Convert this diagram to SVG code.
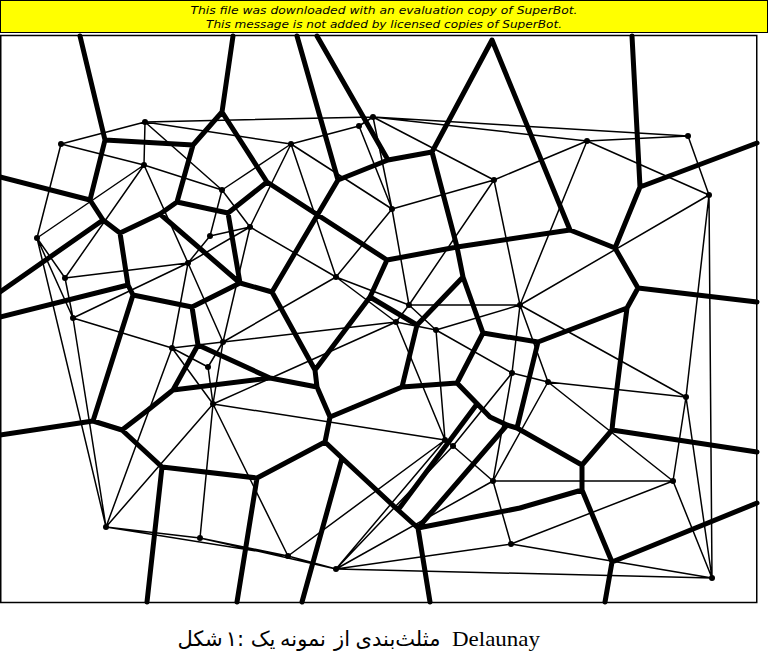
<svg xmlns="http://www.w3.org/2000/svg" width="768" height="655" viewBox="0 0 768 655">
<style>
.thick{fill:none;stroke:#000;stroke-width:5;stroke-linejoin:round;stroke-linecap:round}
.thin{fill:none;stroke:#000;stroke-width:1.5;stroke-linecap:round}
.site{fill:#000}
.banner{font-family:"DejaVu Sans",sans-serif;font-style:italic;font-size:11px;fill:#000}
.ar{font-family:"DejaVu Sans","Noto Sans",sans-serif;font-size:21px;fill:#000;text-anchor:middle}
.lat{font-family:"Liberation Serif",serif;font-size:22px;fill:#000}
</style>
<rect width="768" height="655" fill="#fff"/>
<g id="banner">
<rect x="0.5" y="0.5" width="767" height="32" fill="#ffff00" stroke="#000" stroke-width="1"/>
<text class="banner" x="384" y="14" text-anchor="middle" textLength="387" lengthAdjust="spacingAndGlyphs">This file was downloaded with an evaluation copy of SuperBot.</text>
<text class="banner" x="384" y="28" text-anchor="middle" textLength="356" lengthAdjust="spacingAndGlyphs">This message is not added by licensed copies of SuperBot.</text>
</g>
<rect id="frame" x="0.75" y="35.5" width="756" height="567" fill="none" stroke="#000" stroke-width="1.5"/>
<g id="connectors">
<path class="thin" d="M61 144L145 122M61 144L144 165M61 144L37 238M145 122L144 165M145 122L222 190M145 122L291 144M145 122L373 117M144 165L222 190M144 165L37 238M144 165L65 278M144 165L188 263M222 190L291 144M222 190L210 236M222 190L250 227M250 227L210 236M250 227L188 263M250 227L291 144M250 227L336 277M250 227L223 342M210 236L188 263M37 238L65 278M37 238L73 318M37 238L106 527M65 278L188 263M65 278L73 318M188 263L73 318M188 263L172 348M188 263L223 342M73 318L172 348M73 318L106 527M172 348L223 342M172 348L208 367M172 348L213 404M172 348L106 527M223 342L208 367M223 342L213 404M223 342L336 277M223 342L396 322M208 367L213 404M213 404L106 527M213 404L200 538M213 404L288 556M213 404L396 322M213 404L445 440M106 527L200 538M106 527L288 556M200 538L288 556M200 538L336 569M288 556L336 569M288 556L445 440M336 569L445 440M336 569L453 446M336 569L493 481M336 569L511 544M336 569L712 578M291 144L359 126M291 144L392 209M291 144L336 277M359 126L373 117M359 126L392 209M373 117L392 209M373 117L494 180M373 117L587 141M373 117L688 136M392 209L494 180M392 209L336 277M392 209L409 305M494 180L587 141M494 180L409 305M494 180L520 305M587 141L688 136M587 141L709 195M587 141L520 305M688 136L709 195M709 195L520 305M709 195L686 397M709 195L712 578M336 277L409 305M336 277L396 322M409 305L396 322M409 305L436 330M409 305L520 305M396 322L436 330M396 322L445 440M436 330L520 305M436 330L512 373M436 330L445 440M520 305L512 373M520 305L548 382M520 305L686 397M512 373L548 382M512 373L453 446M512 373L493 481M548 382L686 397M548 382L493 481M548 382L673 481M686 397L673 481M686 397L712 578M445 440L453 446M453 446L493 481M493 481L511 544M493 481L673 481M511 544L673 481M511 544L712 578M673 481L712 578"/>
<path class="thick" d="M80 36L105 140L193 145L222 112L233 36M105 140L90 200L0 177M90 200L103 220L0 292M103 220L120 233L160 214L177 202L193 145M222 112L267 182L228 213L177 202M228 213L240 283L160 214M120 233L128 285L0 317M128 285L133 295L192 307L240 283M133 295L93 421L0 435M93 421L122 430L148 410L173 390M122 430L162 467L147 602M162 467L257 478L237 602M257 478L325 442M192 307L198 345L173 390L270 378L198 345M270 378L317 387M240 283L272 292L338 180M272 292L315 370L317 387L330 417L402 387M330 417L325 442L342 458L302 602M342 458L398 510L477 404M398 510L418 528L430 602M418 528L520 508M418 528L507 425M297 36L338 180L388 160L317 36M388 160L432 152L492 40L570 230M432 152L457 247M267 182L387 260L457 247M387 260L370 297L315 370M370 297L417 325L402 387M417 325L463 277L457 247M463 277L483 333L538 342M483 333L457 383L402 387M457 383L490 417L507 425L517 428L538 342M517 428L582 465M538 342L627 308L638 288M627 308L613 420L612 430L757 452M612 430L582 465L582 490L520 508M582 490L612 562L757 503M612 562L605 602M457 247L570 230L615 248L640 187L632 36M640 187L757 143M615 248L638 288L757 302"/>
</g>
<g id="sites" class="site">
<g id="pA"><circle cx="61" cy="144" r="3"/></g>
<g id="pB"><circle cx="145" cy="122" r="3"/></g>
<g id="pC"><circle cx="144" cy="165" r="3"/></g>
<g id="pD"><circle cx="222" cy="190" r="3"/></g>
<g id="pE"><circle cx="250" cy="227" r="3"/></g>
<g id="pF"><circle cx="210" cy="236" r="3"/></g>
<g id="pG"><circle cx="37" cy="238" r="3"/></g>
<g id="pH"><circle cx="65" cy="278" r="3"/></g>
<g id="pI"><circle cx="188" cy="263" r="3"/></g>
<g id="pJ"><circle cx="73" cy="318" r="3"/></g>
<g id="pK"><circle cx="172" cy="348" r="3"/></g>
<g id="pL"><circle cx="223" cy="342" r="3"/></g>
<g id="pM"><circle cx="208" cy="367" r="3"/></g>
<g id="pN"><circle cx="213" cy="404" r="3"/></g>
<g id="pO"><circle cx="106" cy="527" r="3"/></g>
<g id="pQ"><circle cx="200" cy="538" r="3"/></g>
<g id="pR"><circle cx="288" cy="556" r="3"/></g>
<g id="pS"><circle cx="336" cy="569" r="3"/></g>
<g id="pT"><circle cx="291" cy="144" r="3"/></g>
<g id="pU"><circle cx="373" cy="117" r="3"/></g>
<g id="pU2"><circle cx="359" cy="126" r="3"/></g>
<g id="pV"><circle cx="392" cy="209" r="3"/></g>
<g id="pW"><circle cx="494" cy="180" r="3"/></g>
<g id="pX"><circle cx="587" cy="141" r="3"/></g>
<g id="pY"><circle cx="688" cy="136" r="3"/></g>
<g id="pZ"><circle cx="709" cy="195" r="3"/></g>
<g id="pAA"><circle cx="336" cy="277" r="3"/></g>
<g id="pAB"><circle cx="409" cy="305" r="3"/></g>
<g id="pAC"><circle cx="396" cy="322" r="3"/></g>
<g id="pAD"><circle cx="436" cy="330" r="3"/></g>
<g id="pAE"><circle cx="520" cy="305" r="3"/></g>
<g id="pAF"><circle cx="512" cy="373" r="3"/></g>
<g id="pAG"><circle cx="548" cy="382" r="3"/></g>
<g id="pAH"><circle cx="686" cy="397" r="3"/></g>
<g id="pAI1"><circle cx="445" cy="440" r="3"/></g>
<g id="pAI2"><circle cx="453" cy="446" r="3"/></g>
<g id="pAJ"><circle cx="493" cy="481" r="3"/></g>
<g id="pAK"><circle cx="511" cy="544" r="3"/></g>
<g id="pAL"><circle cx="673" cy="481" r="3"/></g>
<g id="pAM"><circle cx="712" cy="578" r="3"/></g>
</g>
<g id="caption">
<text class="ar" x="200" y="646">شکل</text>
<text class="ar" x="235" y="646">۱:</text>
<text class="ar" x="263" y="646">یک</text>
<text class="ar" x="303" y="646">نمونه</text>
<text class="ar" x="342" y="646">از</text>
<text class="ar" x="398" y="646">مثلث‌بندی</text>
<text class="lat" x="452" y="646" textLength="88" lengthAdjust="spacingAndGlyphs">Delaunay</text>
</g>
</svg>
